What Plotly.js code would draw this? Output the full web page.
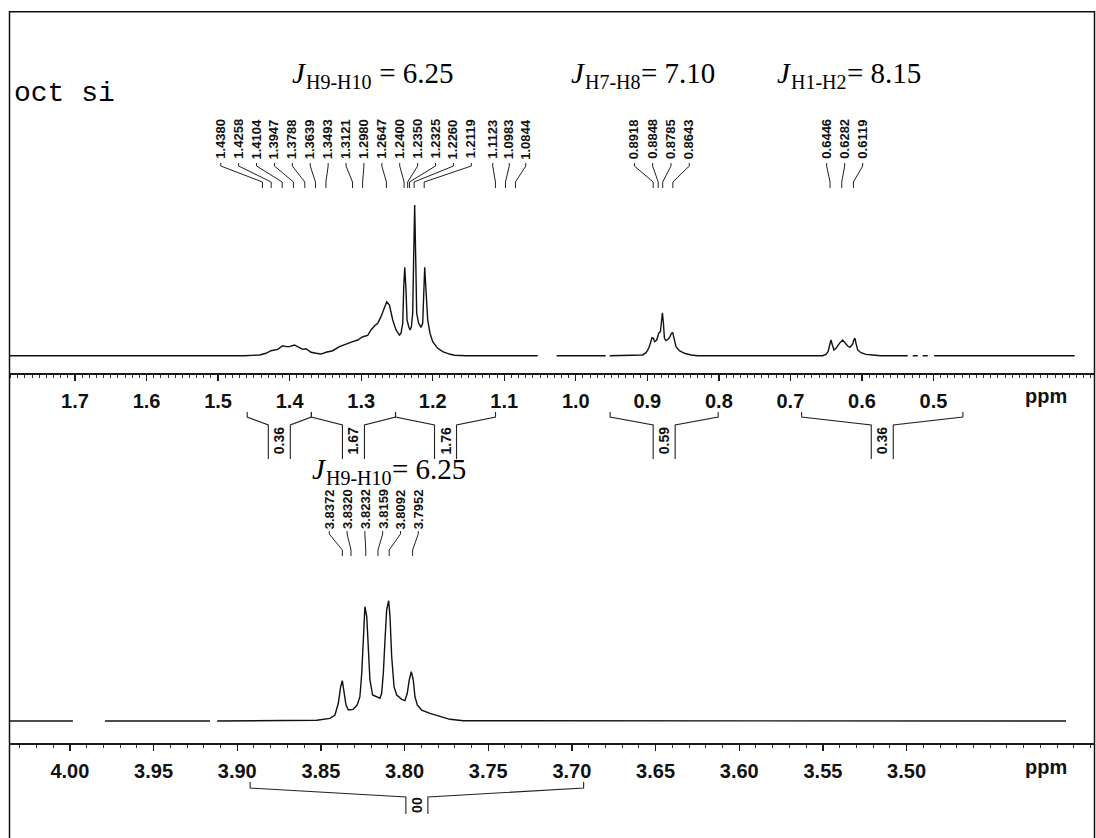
<!DOCTYPE html>
<html>
<head>
<meta charset="utf-8">
<script src="https://cdn.plot.ly/plotly-3.0.1.min.js"></script>
<style>
html,body{margin:0;padding:0;background:#ffffff;}
#chart{width:1096px;height:838px;}
</style>
</head>
<body>
<div id="chart"></div>
<script>
// ------------------------------------------------------------------ data
// upper spectrum (0.3 - 1.8 ppm), relative intensity, null = gap in the trace
const topPpm = [1.7909, 1.4632, 1.4422, 1.4330, 1.4260, 1.4213, 1.4167, 1.4097, 1.4051, 1.4003, 1.3933, 1.3863, 1.3817, 1.3771, 1.3701, 1.3631, 1.3561, 1.3491, 1.3398, 1.3304, 1.3212, 1.3118, 1.3048, 1.2978, 1.2909, 1.2862, 1.2815, 1.2769, 1.2723, 1.2675, 1.2643, 1.2605, 1.2559, 1.2513, 1.2465, 1.2443, 1.2419, 1.2405, 1.2391, 1.2373, 1.2359, 1.2335, 1.2317, 1.2298, 1.2280, 1.2266, 1.2252, 1.2238, 1.2224, 1.2196, 1.2164, 1.2140, 1.2126, 1.2112, 1.2094, 1.2070, 1.2038, 1.2000, 1.1930, 1.1860, 1.1767, 1.1697, 1.1535, 1.0532, null, 1.0267, 0.9582, null, 0.9526, 0.9065, 0.9018, 0.8981, 0.8957, 0.8935, 0.8915, 0.8897, 0.8869, 0.8841, 0.8817, 0.8803, 0.8789, 0.8775, 0.8761, 0.8739, 0.8711, 0.8683, 0.8663, 0.8645, 0.8627, 0.8599, 0.8552, 0.8482, 0.8389, 0.8296, 0.6549, 0.6502, 0.6474, 0.6451, 0.6433, 0.6413, 0.6391, 0.6363, 0.6315, 0.6269, 0.6231, 0.6199, 0.6167, 0.6129, 0.6111, 0.6097, 0.6083, 0.6059, 0.6013, 0.5943, 0.5850, 0.5734, 0.5360, null, 0.5290, 0.5220, null, 0.5150, 0.5080, null, 0.4990, 0.3026];
const topInt = [0, 0, 0.5, 1.6, 3.3, 3.8, 4.2, 6.6, 6.0, 6.0, 7.1, 5.3, 4.2, 4.6, 2.3, 1.6, 1.1, 2.3, 3.3, 6.0, 7.8, 9.3, 10.4, 12.6, 13.5, 17.1, 19.7, 21.5, 25.9, 32.5, 35.8, 33.6, 23.7, 17.1, 13.7, 14.9, 21.5, 45.8, 58.7, 43.6, 23.7, 19.2, 17.1, 19.2, 28.1, 65.7, 100, 65.7, 28.1, 21.5, 18.8, 21.5, 43.6, 58.7, 43.6, 23.7, 14.9, 9.3, 4.9, 2.7, 1.1, 0.3, 0, 0, null, 0, 0, null, 0, 0.5, 2.0, 4.9, 8.2, 11.9, 11.5, 9.3, 10.4, 14.9, 15.9, 21.5, 28.5, 21.5, 11.5, 10.0, 10.9, 12.6, 14.9, 15.3, 11.5, 6.0, 3.3, 1.6, 0.5, 0, 0, 0.9, 2.7, 7.1, 10.4, 7.1, 3.8, 4.9, 8.2, 10.4, 8.6, 6.4, 5.6, 7.8, 10.9, 11.5, 8.2, 3.8, 2.0, 0.9, 0.5, 0, 0, null, 0, 0, null, 0, 0, null, 0, 0];

// lower spectrum (3.4 - 4.05 ppm)
const bottomPpm = [4.0358, 3.9982, null, 3.9790, 3.9163, null, 3.9120, 3.8525, 3.8446, 3.8416, 3.8396, 3.8382, 3.8372, 3.8362, 3.8350, 3.8336, 3.8307, 3.8283, 3.8267, 3.8256, 3.8247, 3.8237, 3.8226, 3.8217, 3.8207, 3.8191, 3.8167, 3.8147, 3.8137, 3.8127, 3.8117, 3.8107, 3.8095, 3.8087, 3.8077, 3.8063, 3.8047, 3.8017, 3.7998, 3.7984, 3.7972, 3.7960, 3.7948, 3.7938, 3.7924, 3.7898, 3.7848, 3.7788, 3.7729, 3.7649, 3.4047];
const bottomInt = [0, 0, null, 0, 0, null, 0, 0.6, 2.2, 5.0, 14.7, 28.5, 33.5, 25.8, 13.3, 9.1, 9.7, 13.3, 20.2, 39.7, 72.9, 95.0, 86.7, 59.0, 34.1, 21.6, 20.2, 18.9, 23.0, 39.7, 67.3, 92.3, 100, 86.7, 53.4, 28.5, 21.6, 18.0, 16.9, 23.0, 34.1, 41.0, 34.1, 20.2, 13.3, 9.1, 6.4, 3.6, 1.4, 0.2, 0];

// axis ticks (labelled) and major ticks drawn without a label
const topTickVals = [1.7, 1.6, 1.5, 1.4, 1.3, 1.2, 1.1, 1.0, 0.9, 0.8, 0.7, 0.6, 0.5];
const topTickText = ['1.7', '1.6', '1.5', '1.4', '1.3', '1.2', '1.1', '1.0', '0.9', '0.8', '0.7', '0.6', '0.5'];
const topBareTicks = [0.4];
const bottomTickVals = [4.00, 3.95, 3.90, 3.85, 3.80, 3.75, 3.70, 3.65, 3.60, 3.55, 3.50];
const bottomTickText = ['4.00', '3.95', '3.90', '3.85', '3.80', '3.75', '3.70', '3.65', '3.60', '3.55', '3.50'];
const bottomBareTicks = [3.45, 3.40];

// peak picking labels (ppm)
const peaksTopA = [1.4380, 1.4258, 1.4104, 1.3947, 1.3788, 1.3639, 1.3493, 1.3121, 1.2980, 1.2647, 1.2400, 1.2350, 1.2325, 1.2260, 1.2119];
const peaksTopB = [1.1123, 1.0983, 1.0844];
const peaksMid = [0.8918, 0.8848, 0.8785, 0.8643];
const peaksRight = [0.6446, 0.6282, 0.6119];
const peaksBottom = [3.8372, 3.8320, 3.8232, 3.8159, 3.8092, 3.7952];

// integrals: [from, to] ppm and values
const integralsTop = [[1.4593, 1.3696], [1.3696, 1.2520], [1.2520, 1.1122], [0.9520, 0.8009], [0.6843, 0.4589]];
const integralsTopValues = ['0.36', '1.67', '1.76', '0.59', '0.36'];
const integralsBottom = [[3.8923, 3.6930]];
const integralsBottomValues = ['00'];

// coupling constant captions
const couplingNames = ['H9-H10', 'H7-H8', 'H1-H2', 'H9-H10'];
const couplingValues = ['6.25', '7.10', '8.15', '6.25'];
const couplingSeparators = [' = ', '= ', '= ', '= '];

const sampleName = 'oct si';

// ------------------------------------------------------------------ layout helpers
const W = 1096, H = 838;
const PX = v => v / W;
const PY = v => 1 - v / H;
const X_DOMAIN = [PX(10), PX(1094)];
const TOP_RANGE = [1.7909, 0.2756];
const BOT_RANGE = [4.0358, 3.3880];

const SANS = 'Liberation Sans, Arial, sans-serif';
const SERIF = 'Liberation Serif, Times New Roman, serif';
const tickFont = {family: SANS, size: 20, weight: 'bold', color: '#111'};
const labelFont = {family: SANS, size: 13, weight: 'bold', color: '#111'};
const J_SIZE = 29, SUB_SIZE = 20;

function xAxis(range, vals, text, anchor) {
  return {
    domain: X_DOMAIN, range: range, anchor: anchor,
    showline: true, linecolor: '#1a1a1a', linewidth: 1.6,
    ticks: 'outside', ticklen: 6, tickwidth: 1.3, tickcolor: '#1a1a1a',
    tickmode: 'array', tickvals: vals, ticktext: text,
    tickfont: tickFont, ticklabelstandoff: 3,
    minor: {dtick: 0.01, tick0: 0, ticks: 'outside', ticklen: 3, tickwidth: 1, tickcolor: '#333', showgrid: false},
    showgrid: false, zeroline: false, fixedrange: true
  };
}
function bareAxis(range, vals, anchor, over) {
  return {
    domain: X_DOMAIN, range: range, anchor: anchor, overlaying: over,
    showline: false, ticks: 'outside', ticklen: 6, tickwidth: 1.3, tickcolor: '#1a1a1a',
    tickmode: 'array', tickvals: vals, showticklabels: false,
    showgrid: false, zeroline: false, fixedrange: true
  };
}

const annotations = [];
const shapes = [];

// frame
shapes.push({type: 'rect', xref: 'paper', yref: 'paper', x0: PX(9.5), x1: PX(1094.5), y0: PY(11.7), y1: -0.2,
  line: {color: '#111', width: 1.5}});

// sample name
annotations.push({xref: 'paper', yref: 'paper', x: PX(12), y: PY(93), xanchor: 'left', yanchor: 'middle',
  text: sampleName, showarrow: false, font: {family: 'Liberation Mono, Courier New, monospace', size: 28, color: '#000'}});

// ppm labels
[396, 767].forEach(function (r) {
  annotations.push({xref: 'paper', yref: 'paper', x: PX(1046), y: PY(r), xanchor: 'center', yanchor: 'middle',
    text: 'ppm', showarrow: false, font: tickFont});
});

// coupling captions: italic J, subscript and value laid out side by side
const measureCtx = document.createElement('canvas').getContext('2d');
function textWidth(t, font) { measureCtx.font = font; return measureCtx.measureText(t).width; }
const couplingPos = [[372, 73], [642, 73], [848, 73], [388, 469]];
couplingNames.forEach(function (n, i) {
  const rest = couplingSeparators[i] + couplingValues[i];
  const wJ = textWidth('J', 'italic ' + J_SIZE + 'px "Liberation Serif"') + 1;
  const wS = textWidth(n, SUB_SIZE + 'px "Liberation Serif"');
  const wR = textWidth(rest, J_SIZE + 'px "Liberation Serif"');
  const x0 = couplingPos[i][0] - (wJ + wS + wR) / 2;
  const yc = couplingPos[i][1];
  annotations.push({xref: 'paper', yref: 'paper', x: PX(x0), y: PY(yc), xanchor: 'left', yanchor: 'middle',
    showarrow: false, text: 'J', font: {family: SERIF, size: J_SIZE, color: '#000', style: 'italic'}, borderpad: 0});
  annotations.push({xref: 'paper', yref: 'paper', x: PX(x0 + wJ), y: PY(yc + 9), xanchor: 'left', yanchor: 'middle',
    showarrow: false, text: n, font: {family: SERIF, size: SUB_SIZE, color: '#000'}, borderpad: 0});
  annotations.push({xref: 'paper', yref: 'paper', x: PX(x0 + wJ + wS), y: PY(yc), xanchor: 'left', yanchor: 'middle',
    showarrow: false, text: rest.replace(/ /g, '&nbsp;'), font: {family: SERIF, size: J_SIZE, color: '#000'}, borderpad: 0});
});

// peak labels with leader lines
const peakGroups = [
  {vals: peaksTopA, axis: 'x', first: 1.4963, step: 0.02502, labelY: 139, lead: [163, 166, 182, 188]},
  {vals: peaksTopB, axis: 'x', first: 1.1161, step: 0.0231, labelY: 139, lead: [163, 166, 182, 188]},
  {vals: peaksMid, axis: 'x', first: 0.9181, step: 0.02558, labelY: 139, lead: [163, 166, 182, 188]},
  {vals: peaksRight, axis: 'x', first: 0.6493, step: 0.02516, labelY: 139, lead: [163, 166, 182, 188]},
  {vals: peaksBottom, axis: 'x2', first: 3.8450, step: 0.010637, labelY: 509, lead: [531, 534, 550, 556]}
];
peakGroups.forEach(function (g) {
  g.vals.forEach(function (v, i) {
    const slot = g.first - i * g.step;
    annotations.push({xref: g.axis, yref: 'paper', x: slot, y: PY(g.labelY), xanchor: 'center', yanchor: 'middle',
      textangle: -90, text: v.toFixed(4), showarrow: false, font: labelFont});
    shapes.push({type: 'path', xref: g.axis, yref: 'paper',
      path: 'M' + slot + ',' + PY(g.lead[0]) + ' L' + slot + ',' + PY(g.lead[1]) +
            ' L' + v + ',' + PY(g.lead[2]) + ' L' + v + ',' + PY(g.lead[3]),
      line: {color: '#222', width: 1}});
  });
});

// integral brackets
function integral(range, value, axis, halfW, ys, textY) {
  const a = range[0], b = range[1], c = (a + b) / 2;
  const l = c + halfW, r = c - halfW;
  shapes.push({type: 'path', xref: axis, yref: 'paper',
    path: 'M' + a + ',' + PY(ys[0]) + ' L' + a + ',' + PY(ys[1]) + ' L' + l + ',' + PY(ys[2]) + ' L' + l + ',' + PY(ys[3]) +
          ' M' + r + ',' + PY(ys[3]) + ' L' + r + ',' + PY(ys[2]) + ' L' + b + ',' + PY(ys[1]) + ' L' + b + ',' + PY(ys[0]),
    line: {color: '#222', width: 1.1}});
  annotations.push({xref: axis, yref: 'paper', x: c, y: PY(textY), xanchor: 'center', yanchor: 'middle',
    textangle: -90, text: value, showarrow: false,
    font: {family: SANS, size: 14, weight: 'bold', color: '#111'}});
}
integralsTop.forEach(function (r, i) {
  integral(r, integralsTopValues[i], 'x', 11 / 715.4, [412, 417, 425, 459], 441);
});
integralsBottom.forEach(function (r, i) {
  integral(r, integralsBottomValues[i], 'x2', 11 / 1673.4, [782, 788, 797, 814], 805);
});

// ------------------------------------------------------------------ traces
const lineStyle = {color: '#111', width: 1.4};
const traces = [
  {x: topPpm, y: topInt, xaxis: 'x', yaxis: 'y', type: 'scatter', mode: 'lines', line: lineStyle, connectgaps: false, hoverinfo: 'skip'},
  {x: bottomPpm, y: bottomInt, xaxis: 'x2', yaxis: 'y2', type: 'scatter', mode: 'lines', line: lineStyle, connectgaps: false, hoverinfo: 'skip'}
];

const layout = {
  width: W, height: H,
  margin: {l: 0, r: 0, t: 0, b: 0, pad: 0},
  paper_bgcolor: '#ffffff', plot_bgcolor: 'rgba(0,0,0,0)',
  showlegend: false,
  xaxis: xAxis(TOP_RANGE, topTickVals, topTickText, 'y'),
  xaxis3: bareAxis(TOP_RANGE, topBareTicks, 'y', 'x'),
  yaxis: {domain: [PY(373.3), PY(190)], range: [-11.68, 109.95], visible: false, fixedrange: true},
  xaxis2: xAxis(BOT_RANGE, bottomTickVals, bottomTickText, 'y2'),
  xaxis4: bareAxis(BOT_RANGE, bottomBareTicks, 'y2', 'x2'),
  yaxis2: {domain: [PY(743), PY(590)], range: [-18.29, 108.89], visible: false, fixedrange: true},
  annotations: annotations,
  shapes: shapes
};

Plotly.newPlot('chart', traces, layout, {staticPlot: true, displayModeBar: false});
</script>
</body>
</html>
